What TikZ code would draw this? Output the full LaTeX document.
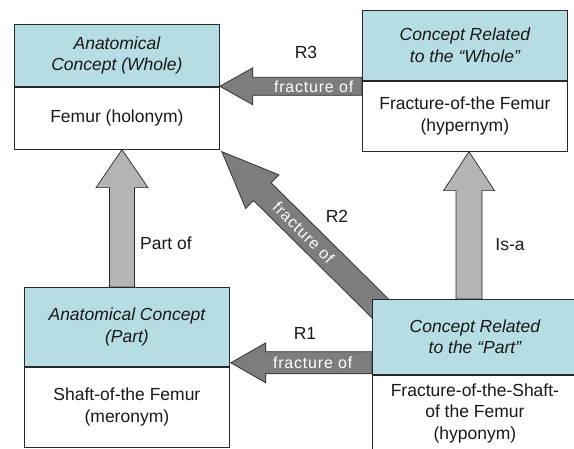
\documentclass[tikz,border=0pt]{standalone}
\usepackage{fontspec}
\setmainfont{Liberation Sans}
\usetikzlibrary{calc}
\pgfdeclarelayer{bg}
\pgfsetlayers{bg,main}
\definecolor{headfill}{RGB}{182,221,227}
\definecolor{darkarrow}{RGB}{125,125,125}
\definecolor{lightarrow}{RGB}{180,180,180}
\definecolor{boxline}{RGB}{40,40,40}
\definecolor{txt}{RGB}{25,25,25}

% #1 tail, #2 tip, #3 half shaft width, #4 half head width, #5 head length, #6 style
\newcommand{\fatarrow}[6]{%
  \coordinate (fa-h) at ($(#2)!#5!(#1)$);
  \filldraw[#6] ($(#1)!#3!90:(#2)$) -- ($(fa-h)!#3!90:(#2)$) -- ($(fa-h)!#4!90:(#2)$) -- (#2)
    -- ($(fa-h)!#4!-90:(#2)$) -- ($(fa-h)!#3!-90:(#2)$) -- ($(#1)!#3!-90:(#2)$) -- cycle;
}

\tikzset{
  boxpart/.style={draw=boxline, line width=0.8pt, minimum width=205pt, inner sep=0pt,
    align=center, text=txt, anchor=north west},
  headpart/.style={boxpart, fill=headfill, font=\fontsize{17.5}{21.5}\selectfont\itshape},
  bodypart/.style={boxpart, fill=white, font=\fontsize{17.5}{21.5}\selectfont},
  darkfat/.style={fill=darkarrow, draw=boxline, line width=0.7pt, line join=miter},
  lightfat/.style={fill=lightarrow, draw=boxline, line width=0.7pt, line join=miter},
  arrowtext/.style={text=white, inner sep=0pt, font=\fontsize{16}{18}\selectfont\addfontfeature{LetterSpace=5}},
  lbl/.style={text=txt, inner sep=0pt, font=\fontsize{17.5}{21}\selectfont},
}

\begin{document}
\begin{tikzpicture}[x=1pt, y=-1pt]
\useasboundingbox (0,0) rectangle (574,448);
\clip (0,0) rectangle (574,448);

% boxes
\node[headpart, minimum height=62pt] (Atop) at (14,24) {Anatomical\\Concept (Whole)};
\node[bodypart, minimum height=62pt] (Abot) at (Atop.south west) {Femur (holonym)};

\node[headpart, minimum height=70pt] (Btop) at (362,10) {Concept Related\\to the “Whole”};
\node[bodypart, minimum height=70pt] (Bbot) at (Btop.south west) {Fracture-of-the Femur\\(hypernym)};

\node[headpart, minimum height=79pt] (Ctop) at (24,287) {Anatomical Concept\\(Part)};
\node[bodypart, minimum height=80pt] (Cbot) at (Ctop.south west) {Shaft-of-the Femur\\(meronym)};

\node[headpart, minimum height=75pt] (Dtop) at (372,299) {Concept Related\\to the “Part”};
\node[bodypart, minimum height=76pt] (Dbot) at (Dtop.south west) {Fracture-of-the-Shaft-\\of the Femur\\(hyponym)};

% arrows (behind boxes)
\begin{pgfonlayer}{bg}
  \fill[white] (0,0) rectangle (574,448);
  % Part of
  \coordinate (ps) at ($(Ctop.north west)+(98,0)$);
  \coordinate (pt) at ($(Abot.south west)+(108,0)$);
  \fatarrow{ps}{pt}{12.5pt}{26pt}{38pt}{lightfat}
  % Is-a
  \coordinate (is) at ($(Dtop.north west)+(97,0)$);
  \coordinate (it) at ($(Bbot.south west)+(107,0)$);
  \fatarrow{is}{it}{13pt}{25.5pt}{39pt}{lightfat}
  % R3
  \coordinate (r3s) at ($(Bbot.north west)+(0,5.5)$);
  \coordinate (r3t) at ($(Atop.south east)+(0,-0.5)$);
  \fatarrow{r3s}{r3t}{9pt}{18.5pt}{33pt}{darkfat}
  % R1
  \coordinate (r1s) at ($(Dtop.south west)+(0,-12)$);
  \coordinate (r1t) at ($(Cbot.north east)+(1,-4)$);
  \fatarrow{r1s}{r1t}{11pt}{20pt}{35pt}{darkfat}
  % R2
  \coordinate (r2s) at ($(Dtop.north west)+(24,25)$);
  \coordinate (r2t) at ($(Abot.south east)+(2,2)$);
  \fatarrow{r2s}{r2t}{12.5pt}{23.7pt}{57pt}{darkfat}
\end{pgfonlayer}

% text on arrows
\node[arrowtext] (f3) at ($(r3t)!0.66!(r3s)$) {fracture of};
\node[arrowtext] (f1) at ($(r1t)!0.58!(r1s)$) {fracture of};
\node[arrowtext, rotate=-45] (f2) at ($(r2t)!0.47!(r2s)$) {fracture of};

% labels
\node[lbl] (R3) at (306,52) {R3};
\node[lbl] (R2) at (337,216) {R2};
\node[lbl] (R1) at (305,333) {R1};
\node[lbl] (partof) at (166,243) {Part of};
\node[lbl] (isa) at (510,245) {Is-a};
\end{tikzpicture}
\end{document}
